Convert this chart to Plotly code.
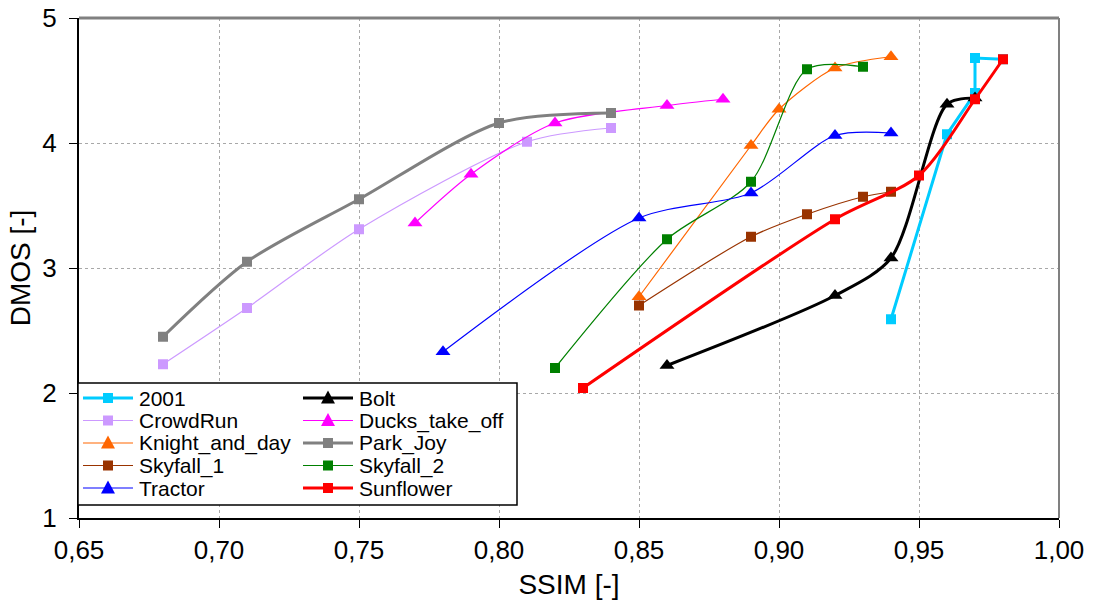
import plotly.graph_objects as go

# Data
s2001_x = [0.94, 0.96, 0.97, 0.97, 0.98]
s2001_y = [2.59, 4.07, 4.40, 4.68, 4.67]

bolt_x = [0.86, 0.92, 0.94, 0.96, 0.97]
bolt_y = [2.22, 2.78, 3.08, 4.31, 4.36]

crowd_x = [0.68, 0.71, 0.75, 0.81, 0.84]
crowd_y = [2.23, 2.68, 3.31, 4.01, 4.12]

ducks_x = [0.77, 0.79, 0.82, 0.86, 0.88]
ducks_y = [3.36, 3.75, 4.16, 4.30, 4.35]

knight_x = [0.85, 0.89, 0.90, 0.92, 0.94]
knight_y = [2.77, 3.98, 4.27, 4.60, 4.69]

park_x = [0.68, 0.71, 0.75, 0.80, 0.84]
park_y = [2.45, 3.05, 3.55, 4.16, 4.24]

sky1_x = [0.85, 0.89, 0.91, 0.93, 0.94]
sky1_y = [2.70, 3.25, 3.43, 3.57, 3.61]

sky2_x = [0.82, 0.86, 0.89, 0.91, 0.93]
sky2_y = [2.20, 3.23, 3.69, 4.59, 4.61]

tractor_x = [0.78, 0.85, 0.89, 0.92, 0.94]
tractor_y = [2.33, 3.40, 3.60, 4.06, 4.08]

sun_x = [0.83, 0.92, 0.95, 0.97, 0.98]
sun_y = [2.04, 3.39, 3.74, 4.35, 4.67]

x_ticks = [0.65, 0.70, 0.75, 0.80, 0.85, 0.90, 0.95, 1.00]
y_ticks = [1, 2, 3, 4, 5]

FONT = "Liberation Sans, Arial, sans-serif"

series = [
    # name, x, y, color, symbol, width, marker size, shape
    ("2001", s2001_x, s2001_y, "#00CCFF", "square", 3, 10, "linear"),
    ("Bolt", bolt_x, bolt_y, "#000000", "triangle-up", 3, 13, "spline"),
    ("CrowdRun", crowd_x, crowd_y, "#CC99FF", "square", 1.2, 10, "spline"),
    ("Ducks_take_off", ducks_x, ducks_y, "#FF00FF", "triangle-up", 1.2, 13, "spline"),
    ("Knight_and_day", knight_x, knight_y, "#FF6600", "triangle-up", 1.2, 13, "spline"),
    ("Park_Joy", park_x, park_y, "#808080", "square", 3, 10, "spline"),
    ("Skyfall_1", sky1_x, sky1_y, "#993300", "square", 1.2, 10, "spline"),
    ("Skyfall_2", sky2_x, sky2_y, "#008000", "square", 1.2, 10, "spline"),
    ("Tractor", tractor_x, tractor_y, "#0000FF", "triangle-up", 1.2, 13, "spline"),
    ("Sunflower", sun_x, sun_y, "#FF0000", "square", 3, 10, "spline"),
]

fig = go.Figure()
for name, xs, ys, col, sym, w, ms, shape in series:
    line = dict(color=col, width=w, shape=shape)
    if shape == "spline":
        line["smoothing"] = 0.8
    fig.add_trace(go.Scatter(
        x=xs, y=ys, name=name, mode="lines+markers",
        line=line,
        marker=dict(symbol=sym, size=ms, color=col, line=dict(width=0)),
        showlegend=False,
    ))

# ---- manual legend (two columns, Excel style) ----
PW, PH = 980.0, 500.0          # plot area size in px


def px(x):
    return x / PW


def py(y):
    return 1 - y / PH


shapes = [
    dict(type="line", xref="paper", yref="paper", x0=0, x1=1, y0=1, y1=1,
         line=dict(color="#808080", width=3)),
    dict(type="line", xref="paper", yref="paper", x0=1, x1=1, y0=0, y1=1,
         line=dict(color="#808080", width=2)),
    # legend box (px relative to plot-area top-left)
    dict(type="rect", xref="paper", yref="paper", layer="above",
         x0=px(-1), x1=px(438), y0=py(365), y1=py(487),
         fillcolor="white", line=dict(color="black", width=1.5)),
]
annotations = []
row0, row_gap = 380.0, 22.5
col_x = [4, 224]     # line start in px relative to plot-area left
for i, (name, xs, ys, col, sym, w, ms, shape) in enumerate(series):
    c = i % 2
    r = i // 2
    yc = row0 + r * row_gap
    x0 = col_x[c]
    x1 = x0 + 50
    xm = (x0 + x1) / 2
    shapes.append(dict(type="line", xref="paper", yref="paper", layer="above",
                       x0=px(x0), x1=px(x1), y0=py(yc), y1=py(yc),
                       line=dict(color=col, width=w)))
    if sym == "square":
        h = 5
        shapes.append(dict(type="rect", xref="paper", yref="paper", layer="above",
                           x0=px(xm - h), x1=px(xm + h), y0=py(yc + h), y1=py(yc - h),
                           fillcolor=col, line=dict(width=0)))
    else:
        h = 7
        path = "M {:.5f},{:.5f} L {:.5f},{:.5f} L {:.5f},{:.5f} Z".format(
            px(xm - h), py(yc + 5.5), px(xm + h), py(yc + 5.5), px(xm), py(yc - 7.5))
        shapes.append(dict(type="path", xref="paper", yref="paper", layer="above",
                           path=path, fillcolor=col, line=dict(width=0)))
    annotations.append(dict(text=name, xref="paper", yref="paper",
                            x=px(x1 + 4), y=py(yc), xanchor="left", yanchor="middle",
                            showarrow=False,
                            font=dict(family=FONT, size=21, color="black")))

fig.update_layout(
    width=1094, height=606,
    margin=dict(l=79, r=35, t=18, b=88),
    paper_bgcolor="white", plot_bgcolor="white",
    separators=", ",
    font=dict(family=FONT, size=26, color="black"),
    showlegend=False,
    xaxis=dict(
        range=[0.65, 1.00], tickvals=x_ticks, tickformat=".2f",
        showgrid=True, gridcolor="#a8a8a8", griddash="dot", gridwidth=1,
        showline=True, linecolor="black", linewidth=2,
        ticks="outside", ticklen=8, tickcolor="black",
        title=dict(text="SSIM [-]", font=dict(size=28), standoff=10),
        tickfont=dict(size=26), zeroline=False, automargin=False,
        ticklabeloverflow="allow",
    ),
    yaxis=dict(
        range=[1, 5], tickvals=y_ticks,
        showgrid=True, gridcolor="#a8a8a8", griddash="dot", gridwidth=1,
        showline=True, linecolor="black", linewidth=2,
        ticks="outside", ticklen=8, tickcolor="black",
        title=dict(text="DMOS [-]", font=dict(size=28), standoff=4),
        tickfont=dict(size=26), zeroline=False, automargin=False,
        ticklabeloverflow="allow", ticklabelstandoff=7,
    ),
    shapes=shapes,
    annotations=annotations,
)

fig.write_html(
    "out.html",
    config={"displayModeBar": False},
    post_script="document.body.style.margin='0';document.body.style.overflow='hidden';",
)
